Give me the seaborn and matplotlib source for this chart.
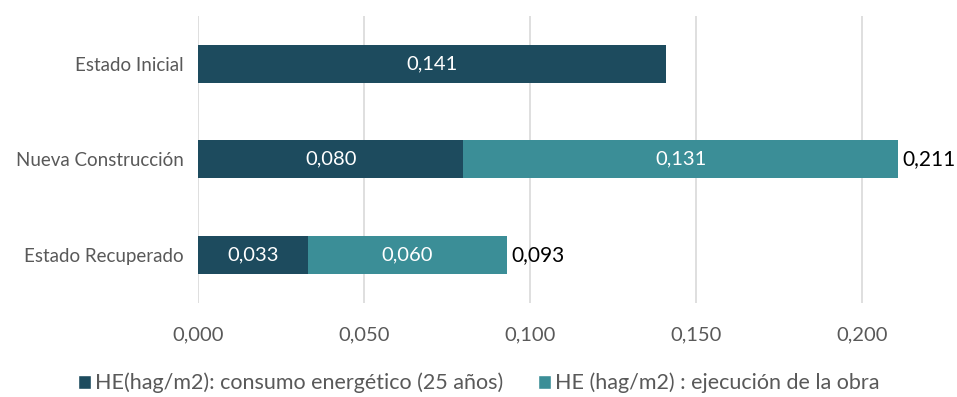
import matplotlib
matplotlib.use("Agg")
import matplotlib.pyplot as plt
import seaborn as sns
import pandas as pd
from matplotlib.patches import Patch

categories = ["Estado Inicial", "Nueva Construcción", "Estado Recuperado"]
consumo = [0.141, 0.080, 0.033]
ejecucion = [0.0, 0.131, 0.060]
series_names = ["HE(hag/m2): consumo energético (25 años)", "HE (hag/m2) : ejecución de la obra"]
xticks = [0.0, 0.05, 0.10, 0.15, 0.20]

dark = "#1D4B5E"
teal = "#3B8E97"

sns.set_theme(style="white")
plt.rcParams["font.family"] = ["Lato", "DejaVu Sans"]

totals = [a + b for a, b in zip(consumo, ejecucion)]
df = pd.DataFrame({"cat": categories, "consumo": consumo, "ejec": ejecucion, "total": totals})

fig = plt.figure(figsize=(9.57, 3.97), dpi=100)
ax = fig.add_axes([198/957, 1 - 302.5/397, (928-198)/957, (302.5-16)/397])

sns.barplot(data=df, x="total", y="cat", orient="h", color=teal, width=0.4, ax=ax,
            saturation=1, linewidth=0)
sns.barplot(data=df, x="consumo", y="cat", orient="h", color=dark, width=0.4, ax=ax,
            saturation=1, linewidth=0)

ax.set_xlim(0, 0.22)
ax.set_xticks(xticks)
ax.set_xticklabels([f"{t:.3f}".replace(".", ",") for t in xticks], fontsize=14.5, color="#595959")
ax.tick_params(axis="x", pad=17, length=0)
ax.tick_params(axis="y", length=0, pad=10, labelsize=13.5, labelcolor="#595959")
ax.set_xlabel("")
ax.set_ylabel("")
ax.grid(axis="x", color="#D9D9D9", linewidth=1.2)
ax.set_axisbelow(True)
for s in ax.spines.values():
    s.set_visible(False)

for i, (c, e, t) in enumerate(zip(consumo, ejecucion, totals)):
    ax.text(c / 2, i, f"{c:.3f}".replace(".", ","), ha="center", va="center", color="white", fontsize=14.5)
    if e > 0:
        ax.text(c + e / 2, i, f"{e:.3f}".replace(".", ","), ha="center", va="center", color="white", fontsize=14.5)
        ax.text(t + 0.0014, i, f"{t:.3f}".replace(".", ","), ha="left", va="center", color="black", fontsize=15, clip_on=False)

handles = [Patch(facecolor=dark, label=series_names[0]), Patch(facecolor=teal, label=series_names[1])]
fig.legend(handles=handles, loc="center", bbox_to_anchor=(0.5, 0.035), ncol=2, frameon=False,
           fontsize=15.5, labelcolor="#595959", handlelength=0.6, handleheight=0.6, handletextpad=0.2,
           columnspacing=1.6)

fig.savefig("out.png", dpi=100)
